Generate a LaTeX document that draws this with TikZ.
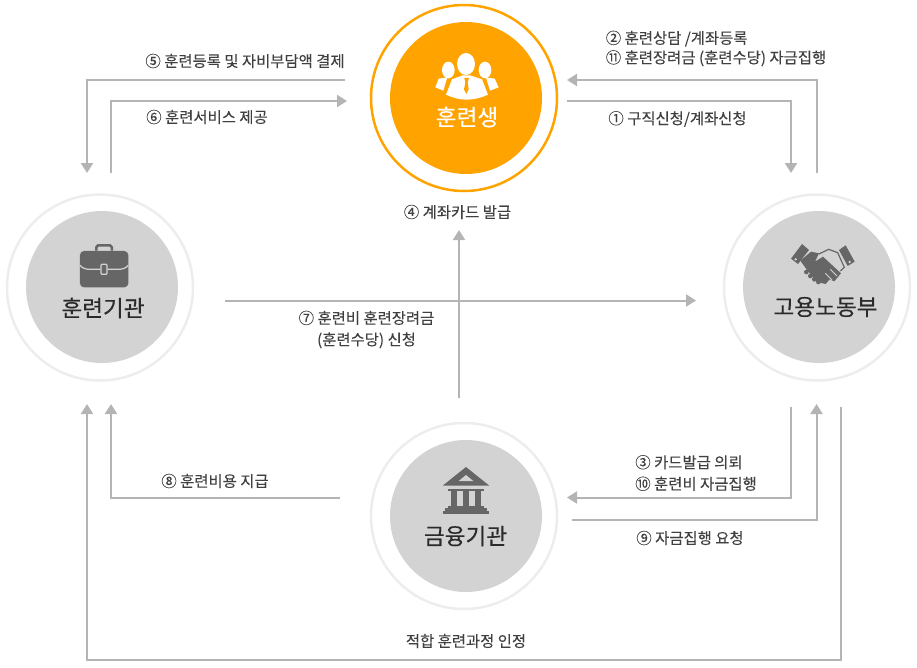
\documentclass[tikz,border=0pt]{standalone}
\usepackage{fontspec}
\usetikzlibrary{arrows.meta}
\setmainfont{Noto Sans CJK KR}
\newfontfamily\titlefont[FakeBold=0.35]{Noto Sans CJK KR}
\newfontfamily\labfont[FakeBold=0.1]{Noto Sans CJK KR}
\definecolor{ringgray}{HTML}{EDEDED}
\definecolor{discgray}{HTML}{D3D3D3}
\definecolor{titlegray}{HTML}{2A2A2A}
\definecolor{labgray}{HTML}{404040}
\definecolor{flowgray}{HTML}{B4B4B4}
\definecolor{icongray}{HTML}{666666}
\definecolor{trainee}{HTML}{FFA300}
\begin{document}
\begin{tikzpicture}[x=1pt, y=-1pt,
    ring/.style = {draw=ringgray, line width=2.5pt, circle, minimum size=186pt, inner sep=0pt},
    disc/.style = {fill=discgray, circle, minimum size=152pt, inner sep=0pt},
    main/.style = {font=\titlefont\fontsize{22.6pt}{24pt}\selectfont, text=titlegray},
    lab/.style = {font=\labfont\fontsize{15.4pt}{21.5pt}\selectfont, text=labgray, inner sep=0pt},
    flow/.style = {draw=flowgray, line width=2pt},
    head/.style = {-{Triangle[length=10pt,width=12pt]}}]
    \useasboundingbox (0,0) rectangle (917,667);

    % circles
    \node[ring, draw=trainee] (r1) at (464,98) {};
    \node[disc, fill=trainee] (d1) at (466,98) {};
    \node[ring] (r2) at (100,287.5) {};
    \node[disc] (d2) at (102,287) {};
    \node[ring] (r3) at (817,287.5) {};
    \node[disc] (d3) at (819,287) {};
    \node[ring] (r4) at (464,516) {};
    \node[disc] (d4) at (466,516) {};

    \node[main, text=white] (t1) at (467,117) {훈련생};
    \node[main] (t2) at (103,308) {훈련기관};
    \node[main] (t3) at (825.5,307) {고용노동부};
    \node[main] (t4) at (465.5,536) {금융기관};

    % free ends of the connectors
    \coordinate (a5s) at (345,80);
    \coordinate (a5e) at (87,173);
    \coordinate (a6s) at (111,173);
    \coordinate (a6e) at (347,101);
    \coordinate (a2s) at (816.5,173);
    \coordinate (a2e) at (567,80);
    \coordinate (a1s) at (567,100.5);
    \coordinate (a1e) at (791,173);
    \coordinate (a7s) at (225,300.5);
    \coordinate (a7e) at (696,300.5);
    \coordinate (a4s) at (459,398);
    \coordinate (a4e) at (459,230);
    \coordinate (a3s) at (791,407);
    \coordinate (a3e) at (567,497.5);
    \coordinate (a9s) at (572,519.5);
    \coordinate (a9e) at (816.5,404);
    \coordinate (a8s) at (340,497.5);
    \coordinate (a8e) at (111,404);
    \coordinate (ags) at (841,407);
    \coordinate (agc) at (87,660);
    \coordinate (age) at (87,404);

    \draw[flow, head] (a5s) -| (a5e);
    \draw[flow, head] (a6s) |- (a6e);
    \draw[flow, head] (a2s) |- (a2e);
    \draw[flow, head] (a1s) -| (a1e);
    \draw[flow, head] (a7s) -- (a7e);
    \draw[flow, head] (a4s) -- (a4e);
    \draw[flow, head] (a3s) |- (a3e);
    \draw[flow, head] (a9s) -| (a9e);
    \draw[flow, head] (a8s) -| (a8e);
    \draw[flow, head, line width=1.7pt] (ags) |- (agc) -- (age);

    % labels
    \node[lab] (l5) at (245,61) {⑤ 훈련등록 및 자비부담액 결제};
    \node[lab] (l6) at (207,117) {⑥ 훈련서비스 제공};
    \node[lab, align=left] (l2) at (716,48.5) {② 훈련상담 /계좌등록\\[-2pt]⑪ 훈련장려금 (훈련수당) 자금집행};
    \node[lab] (l1) at (677.5,119) {① 구직신청/계좌신청};
    \node[lab] (l4) at (457.5,212) {④ 계좌카드 발급};
    \node[lab, align=center] (l7) at (366.5,329.5) {⑦ 훈련비 훈련장려금\\(훈련수당) 신청};
    \node[lab] (l8) at (215,481) {⑧ 훈련비용 지급};
    \node[lab, align=left] (l3) at (696,473) {③ 카드발급 의뢰\\⑩ 훈련비 자금집행};
    \node[lab] (l9) at (690,538) {⑨ 자금집행 요청};
    \node[lab] (lg) at (466,641) {적합 훈련과정 인정};

    % people
    \begin{scope}[shift={(360,0)}, x=0.3333pt, y=-0.3333pt]
        \fill[white] (265,210) ellipse (19 and 25);
        \fill[white] (375,210) ellipse (19 and 25);
        \fill[white] (236,236) -- (262,232) -- (250,272) -- (226,262) -- cycle;
        \fill[white] (404,236) -- (378,232) -- (390,272) -- (416,262) -- cycle;
        \fill[white] (318,192) ellipse (27 and 33);
        \fill[white] (276,238) -- (308,226) -- (330,226) -- (366,238) -- (384,284)
            .. controls (340,304) and (300,304) .. (258,284) -- cycle;
        \fill[trainee] (313,234) -- (327,234) -- (323,248) -- (326,268) -- (319,282) -- (312,268) -- (316,248) -- cycle;
    \end{scope}

    % briefcase
    \begin{scope}[shift={(0,190)}, x=0.3333pt, y=-0.3333pt]
        \draw[icongray, line width=2.5pt] (289,182) -- (289,172) -- (294,166) -- (330,166) -- (336,172) -- (336,182);
        \fill[icongray, rounded corners=4pt] (240,183) rectangle (385,292);
        \draw[discgray, line width=1.2pt] (240,226) .. controls (248,236) and (260,238) .. (270,238) -- (302,238);
        \draw[discgray, line width=1.2pt] (385,226) .. controls (377,236) and (365,238) .. (355,238) -- (322,238);
        \draw[discgray, line width=1.2pt, rounded corners=1pt] (303,223) rectangle (321,253);
    \end{scope}

    % handshake
    \begin{scope}[shift={(717,190)}, x=0.3333pt, y=-0.3333pt]
        \fill[icongray] (255,162) -- (276,180) -- (243,222) -- (222,206) -- cycle;
        \fill[icongray] (366,180) -- (386,166) -- (413,215) -- (392,228) -- cycle;
        \fill[discgray] (236,208) circle (4);
        \fill[discgray] (398,216) circle (4);
        \draw[icongray, line width=1.2pt] (306,192) -- (335,178) -- (362,188) -- (382,232) -- (370,243);
        \fill[icongray] (250,212) -- (282,185) -- (306,190) -- (294,215) -- (318,200) -- (372,250)
            -- (352,274) -- (338,268) -- (326,282) -- (300,276) -- (270,240) -- cycle;
        \fill[icongray] (268,246) circle (7) (280,258) circle (7) (292,268) circle (7) (304,276) circle (7);
        \draw[discgray, line width=1pt] (325,250) -- (345,270) (340,238) -- (360,258);
    \end{scope}

    % bank
    \begin{scope}[shift={(360,415)}, x=0.3333pt, y=-0.3333pt]
        \fill[icongray] (318,156) -- (388,212) -- (248,212) -- cycle;
        \fill[discgray] (318,180) -- (340,198) -- (296,198) -- cycle;
        \fill[icongray] (264,222) rectangle (372,229);
        \fill[icongray] (272,229) rectangle (292,272);
        \fill[icongray] (308,229) rectangle (328,272);
        \fill[icongray] (344,229) rectangle (364,272);
        \fill[icongray] (264,272) rectangle (372,279);
        \fill[icongray] (256,279) rectangle (380,288);
        \fill[icongray] (248,288) rectangle (388,297);
    \end{scope}
\end{tikzpicture}
\end{document}
